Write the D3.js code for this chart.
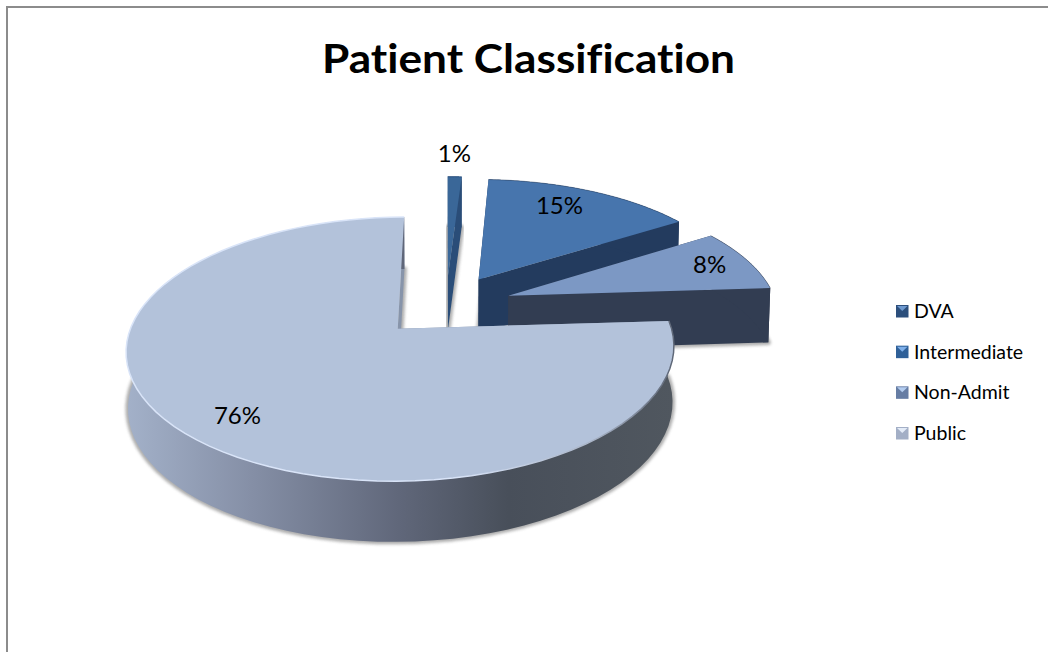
<!DOCTYPE html>
<html>
<head>
<meta charset="utf-8">
<script src="https://cdn.jsdelivr.net/npm/d3@7"></script>
<style>
  html, body { margin: 0; padding: 0; background: #fff; }
  svg { display: block; }
  text { font-family: Lato, "Open Sans", sans-serif; fill: #000; font-variant-ligatures: none; }
</style>
</head>
<body>
<script>
// values
var categories = ["DVA", "Intermediate", "Non-Admit", "Public"];
var shares = [1, 15, 8, 76];
var shareLabels = ["1%", "15%", "8%", "76%"];

var topColors = ["#3a6798", "#4775ad", "#7c98c4", "#b3c2da"];
var wallColors = ["#2a4d78", "#233b5e", "#323d52", "#8794aa"];
var legendEdge = ["#2c4f7c", "#2f6098", "#667da4", "#a3afc6"];
var legendLight = ["#6f9ad0", "#7fb0ea", "#b4cdf0", "#e4ecf8"];

var width = 1048, height = 652;

// perspective of the pie plane
var originX = 446, originY = 305;
var scaleW = 264, scaleH = 122, perspZ = 0.15, perspX = -0.012;
var explode = [0.25, 0.25, 0.25, 0.26], thickness = 55;
var labelRadius = [1.28, 0.72, 0.84, 0.76];
var labelNudge = [[-2, 0], [-3, -9], [0, -1], [-3, 9]];

var svg = d3.select("body").append("svg")
  .attr("width", width)
  .attr("height", height);

var defs = svg.append("defs");

defs.append("filter").attr("id", "soft")
  .attr("x", "-10%").attr("y", "-10%").attr("width", "120%").attr("height", "120%")
  .append("feGaussianBlur").attr("stdDeviation", 1.6);

var wallGrad = defs.append("linearGradient").attr("id", "publicWall")
  .attr("gradientUnits", "userSpaceOnUse")
  .attr("x1", 126).attr("x2", 672).attr("y1", 0).attr("y2", 0);
[[0, "#a3b1c9"], [0.23, "#858fa6"], [0.5, "#60677a"], [0.7, "#484f5a"], [1, "#50575f"]]
  .forEach(function(s) {
    wallGrad.append("stop").attr("offset", s[0]).attr("stop-color", s[1]);
  });

var rimGrad = defs.append("linearGradient").attr("id", "publicRim")
  .attr("gradientUnits", "userSpaceOnUse")
  .attr("x1", 126).attr("x2", 672).attr("y1", 0).attr("y2", 0);
[[0, "#d9e4f8"], [0.6, "#d9e4f8"], [0.85, "#aab5c8"], [1, "#5f6878"]]
  .forEach(function(s) {
    rimGrad.append("stop").attr("offset", s[0]).attr("stop-color", s[1]);
  });

// frame, open on the right and at the bottom
svg.append("path")
  .attr("d", d3.line()([[7, height], [7, 7], [width, 7]]))
  .attr("fill", "none")
  .attr("stroke", "#8c8c8c")
  .attr("stroke-width", 2);

svg.append("text")
  .attr("x", 528.5)
  .attr("y", 73)
  .attr("text-anchor", "middle")
  .attr("font-size", 40)
  .attr("font-weight", 700)
  .attr("textLength", 413)
  .attr("lengthAdjust", "spacingAndGlyphs")
  .text("Patient Classification");

function project(x, z) {
  var w = 1 + perspZ * z + perspX * x;
  return [originX + scaleW * x / w, originY - scaleH * z / w];
}

// same plane point, on the underside of the slice
function drop(x, z) {
  var p = project(x, z);
  var w = 1 + perspZ * z;
  return [originX + (p[0] - originX) * 0.994, p[1] + thickness / Math.sqrt(w)];
}

var pie = d3.pie().sort(null).value(function(d) { return d; });
var slices = pie(shares);
var line = d3.line();

function centerOf(s) {
  var mid = (s.startAngle + s.endAngle) / 2;
  return [explode[s.index] * Math.sin(mid), explode[s.index] * Math.cos(mid)];
}

function rimPoints(s) {
  var c = centerOf(s);
  var angles = d3.range(0, 81).map(function(i) {
    return s.startAngle + (s.endAngle - s.startAngle) * i / 80;
  });
  return angles.map(function(a) {
    return [c[0] + Math.sin(a), c[1] + Math.cos(a)];
  });
}

slices.forEach(function(s, i) {
  var c = centerOf(s);
  var rim = rimPoints(s);
  var first = rim[0], last = rim[rim.length - 1];
  var g = svg.append("g");

  var wallFill = i === 3 ? "url(#publicWall)" : wallColors[i];
  var topRim = rim.map(function(p) { return project(p[0], p[1]); });
  var lowRim = rim.map(function(p) { return drop(p[0], p[1]); });

  // blurred shadow of the underside
  g.append("path")
    .attr("d", line([drop(c[0], c[1])].concat(lowRim)) + "Z")
    .attr("fill", "#777")
    .attr("stroke", "#777")
    .attr("stroke-width", 5)
    .attr("stroke-linejoin", "round")
    .attr("opacity", 0.6)
    .attr("filter", "url(#soft)");

  // radial wall at the start of the slice
  g.append("path")
    .attr("d", line([project(c[0], c[1]), project(first[0], first[1]), drop(first[0], first[1]), drop(c[0], c[1])]) + "Z")
    .attr("fill", wallColors[i]);
  // radial wall at the end of the slice
  g.append("path")
    .attr("d", line([project(c[0], c[1]), project(last[0], last[1]), drop(last[0], last[1]), drop(c[0], c[1])]) + "Z")
    .attr("fill", wallColors[i]);
  // curved outside wall
  g.append("path")
    .attr("d", line(topRim.concat(lowRim.slice().reverse())) + "Z")
    .attr("fill", wallFill);

  // top face
  g.append("path")
    .attr("d", line([project(c[0], c[1])].concat(topRim)) + "Z")
    .attr("fill", topColors[i]);

  // bevel along the rim
  g.append("path")
    .attr("d", line(topRim))
    .attr("fill", "none")
    .attr("stroke", i === 3 ? "url(#publicRim)" : wallColors[i])
    .attr("stroke-opacity", i === 3 ? 1 : 0.45)
    .attr("stroke-width", i === 3 ? 1.5 : 1);
});

// percentage labels
svg.append("g").selectAll("text")
  .data(slices)
  .enter()
  .append("text")
  .attr("transform", function(s, i) {
    var c = centerOf(s);
    var mid = (s.startAngle + s.endAngle) / 2;
    var p = project(c[0] + labelRadius[i] * Math.sin(mid), c[1] + labelRadius[i] * Math.cos(mid));
    return "translate(" + (p[0] + labelNudge[i][0]) + "," + (p[1] + labelNudge[i][1]) + ")";
  })
  .attr("dy", "0.36em")
  .attr("text-anchor", "middle")
  .attr("font-size", 24)
  .text(function(s, i) { return shareLabels[i]; });

// legend
var legendY = d3.scalePoint().domain(categories).range([311, 433]);

var legend = svg.append("g").selectAll("g")
  .data(categories)
  .enter()
  .append("g")
  .attr("transform", function(d) { return "translate(896," + legendY(d) + ")"; });

legend.append("rect")
  .attr("x", 0).attr("y", -6).attr("width", 12.5).attr("height", 12.5)
  .attr("fill", function(d, i) { return legendEdge[i]; });
legend.append("path")
  .attr("d", "M1,-5H11.5L6.25,0Z")
  .attr("fill", function(d, i) { return legendLight[i]; });

legend.append("text")
  .attr("x", 18)
  .attr("dy", "0.36em")
  .attr("font-size", 19.5)
  .text(function(d) { return d; });
</script>
</body>
</html>
